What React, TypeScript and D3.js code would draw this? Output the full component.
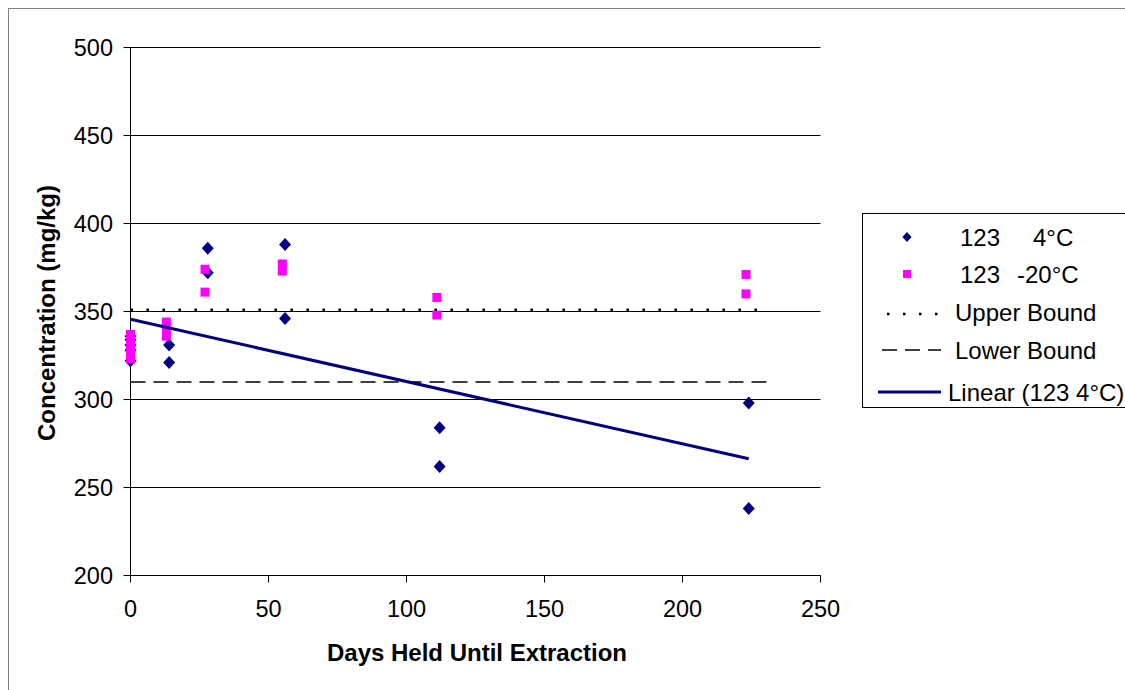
import React from "react";
import * as d3 from "d3";

const days4 = [0, 0, 0, 0, 0, 14, 14, 28, 28, 56, 56, 112, 112, 224, 224];
const conc4 = [322, 328, 331, 334, 336, 331, 321, 386, 372, 388, 346, 284, 262, 298, 238];
const daysM20 = [0, 0, 0, 0, 0, 0, 13, 13, 13, 27, 27, 55, 55, 111, 111, 223, 223];
const concM20 = [323, 326, 329, 332, 335, 337, 344, 340, 336, 374, 361, 377, 373, 358, 348, 371, 360];
const upperBound = 351;
const lowerBound = 310;
const boundDays = [0, 231];
const xTicks = [0, 50, 100, 150, 200, 250];
const yTicks = [200, 250, 300, 350, 400, 450, 500];
const legendLabels = ["123", "4°C", "-20°C", "Upper Bound", "Lower Bound", "Linear (123 4°C)"];

const FONT = "'Liberation Sans', Arial, sans-serif";

export default function App() {
  const x = d3.scaleLinear().domain([0, 250]).range([130.5, 820.5]);
  const y = d3.scaleLinear().domain([200, 500]).range([575.5, 47.5]);

  // linear regression for 4°C series
  const n = days4.length;
  const mx = d3.mean(days4) as number;
  const my = d3.mean(conc4) as number;
  let sxy = 0, sxx = 0;
  for (let i = 0; i < n; i++) {
    sxy += (days4[i] - mx) * (conc4[i] - my);
    sxx += (days4[i] - mx) ** 2;
  }
  const slope = sxy / sxx;
  const intercept = my - slope * mx;
  const xMin = d3.min(days4) as number;
  const xMax = d3.max(days4) as number;
  const line = d3.line<number>().x((d) => x(d)).y((d) => y(intercept + slope * d));

  const diamond = (cx: number, cy: number, r: number) =>
    `M${cx},${cy - r}L${cx + r * 0.92},${cy}L${cx},${cy + r}L${cx - r * 0.92},${cy}Z`;

  const legendY = [237, 274, 312, 350, 392];
  const LF = 24;

  return (
    <svg
      width={1125}
      height={690}
      style={{ position: "absolute", left: 0, top: 0, display: "block", background: "#fff" }}
      fontFamily={FONT}
    >
      <rect x={8.5} y={8.5} width={1200} height={800} fill="#fff" stroke="#808080" strokeWidth={1} />

      {/* gridlines */}
      {yTicks.map((t) => (
        <line key={"g" + t} x1={x(0)} x2={x(250)} y1={y(t)} y2={y(t)} stroke="#000" strokeWidth={1} />
      ))}
      {/* y axis */}
      <line x1={x(0)} x2={x(0)} y1={y(500)} y2={y(200)} stroke="#000" strokeWidth={1} />
      {yTicks.map((t) => (
        <g key={"yt" + t}>
          <line x1={x(0) - 7} x2={x(0)} y1={y(t)} y2={y(t)} stroke="#000" />
          <text x={113} y={y(t) + 8} textAnchor="end" fontSize={23.5} fill="#000">
            {t}
          </text>
        </g>
      ))}
      {/* x axis */}
      <line x1={x(0)} x2={x(250)} y1={y(200)} y2={y(200)} stroke="#000" strokeWidth={1} />
      {xTicks.map((t) => (
        <g key={"xt" + t}>
          <line x1={x(t)} x2={x(t)} y1={y(200)} y2={y(200) + 7} stroke="#000" />
          <text x={x(t)} y={617} textAnchor="middle" fontSize={23.5} fill="#000">
            {t}
          </text>
        </g>
      ))}

      {/* points */}
      {days4.map((d, i) => (
        <path key={"p4" + i} d={diamond(x(d), y(conc4[i]), 6.5)} fill="#000080" />
      ))}
      {daysM20.map((d, i) => (
        <rect key={"pm" + i} x={x(d) - 4.5} y={y(concM20[i]) - 4.5} width={9} height={9} fill="#FF00FF" />
      ))}

      {/* bounds */}
      <line
        x1={x(boundDays[0])}
        x2={x(boundDays[1])}
        y1={y(upperBound)}
        y2={y(upperBound)}
        stroke="#000"
        strokeWidth={2.5}
        strokeDasharray="2.5 13.5"
      />
      <line
        x1={x(boundDays[0])}
        x2={x(boundDays[1])}
        y1={y(lowerBound)}
        y2={y(lowerBound)}
        stroke="#000"
        strokeWidth={1.5}
        strokeDasharray="15 8"
      />
      {/* trend */}
      <path d={line([xMin, xMax]) as string} fill="none" stroke="#000080" strokeWidth={3} />

      {/* axis titles */}
      <text x={477} y={661} textAnchor="middle" fontSize={24} fontWeight="bold" fill="#000">
        Days Held Until Extraction
      </text>
      <text
        transform="translate(55,313) rotate(-90)"
        textAnchor="middle"
        fontSize={24}
        fontWeight="bold"
        fill="#000"
      >
        Concentration (mg/kg)
      </text>

      {/* legend */}
      <rect x={862.5} y={213.5} width={300} height={194} fill="#fff" stroke="#000" strokeWidth={1} />
      <path d={diamond(907, legendY[0], 5)} fill="#000080" />
      <text y={legendY[0] + 8.5} fontSize={LF} fill="#000">
        <tspan x={960}>{legendLabels[0]}</tspan>
        <tspan x={1033}>{legendLabels[1]}</tspan>
      </text>
      <rect x={903} y={legendY[1] - 4} width={8} height={8} fill="#FF00FF" />
      <text y={legendY[1] + 8.5} fontSize={LF} fill="#000">
        <tspan x={960}>{legendLabels[0]}</tspan>
        <tspan x={1017}>{legendLabels[2]}</tspan>
      </text>
      <line x1={887} x2={941} y1={legendY[2] + 2} y2={legendY[2] + 2} stroke="#000" strokeWidth={2.5} strokeDasharray="2.5 13.5" />
      <text x={955} y={legendY[2] + 8.5} fontSize={LF} fill="#000">
        {legendLabels[3]}
      </text>
      <line x1={882} x2={941} y1={legendY[3]} y2={legendY[3]} stroke="#000" strokeWidth={1.5} strokeDasharray="15 8" />
      <text x={955} y={legendY[3] + 8.5} fontSize={LF} fill="#000">
        {legendLabels[4]}
      </text>
      <line x1={878} x2={941} y1={legendY[4]} y2={legendY[4]} stroke="#000080" strokeWidth={3} />
      <text x={948} y={legendY[4] + 8.5} fontSize={LF} fill="#000">
        {legendLabels[5]}
      </text>
    </svg>
  );
}
